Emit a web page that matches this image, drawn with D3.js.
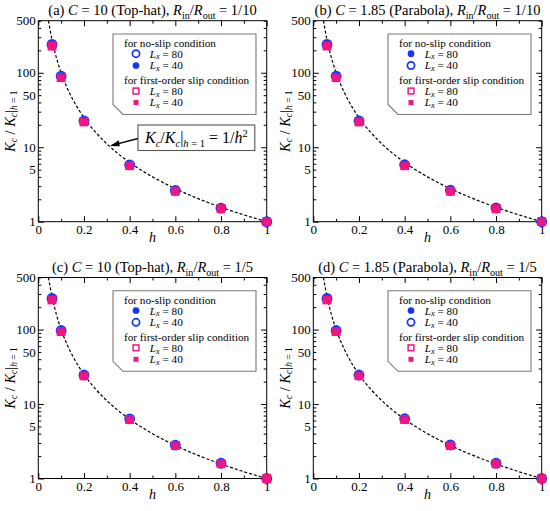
<!DOCTYPE html>
<html>
<head>
<meta charset="utf-8">
<script src="https://cdn.jsdelivr.net/npm/d3@7"></script>
<style>
  body { margin: 0; background: #fff; }
  svg { display: block; }
  text { font-family: "Liberation Serif", "Times New Roman", serif; }
</style>
</head>
<body>
<svg id="chart"></svg>
<script>
// h values where K_c was computed
const hValues = [0.06, 0.1, 0.2, 0.4, 0.6, 0.8, 1];

// (a) C = 10, Rin/Rout = 1/10
const aNoSlip80 = [240, 90, 22.6, 5.8, 2.63, 1.52, 1];
const aNoSlip40 = [238, 89, 22.4, 5.78, 2.62, 1.52, 1];
const aSlip80 = [228, 86, 21.9, 5.66, 2.57, 1.5, 1];
const aSlip40 = [226, 85, 21.7, 5.62, 2.56, 1.49, 1];

// (b) C = 1.85, Rin/Rout = 1/10
const bNoSlip80 = [241, 91, 22.8, 5.85, 2.65, 1.53, 1];
const bNoSlip40 = [240, 90, 22.6, 5.82, 2.64, 1.53, 1];
const bSlip80 = [229, 86, 21.9, 5.65, 2.57, 1.5, 1];
const bSlip40 = [227, 85, 21.7, 5.6, 2.55, 1.49, 1];

// (c) C = 10, Rin/Rout = 1/5
const cNoSlip80 = [263, 98, 24.6, 6.35, 2.82, 1.6, 1];
const cNoSlip40 = [262, 97, 24.5, 6.32, 2.81, 1.6, 1];
const cSlip80 = [250, 94, 24, 6.2, 2.77, 1.58, 1];
const cSlip40 = [248, 93, 23.8, 6.15, 2.75, 1.57, 1];

// (d) C = 1.85, Rin/Rout = 1/5
const dNoSlip80 = [264, 98, 24.7, 6.38, 2.83, 1.61, 1];
const dNoSlip40 = [262, 97, 24.5, 6.34, 2.82, 1.6, 1];
const dSlip80 = [250, 94, 24, 6.2, 2.77, 1.58, 1];
const dSlip40 = [248, 93, 23.8, 6.15, 2.75, 1.57, 1];

// dashed reference line Kc/Kc|h=1 = 1/h^2
const curveH = [0.0447, 0.05, 0.055, 0.06, 0.07, 0.08, 0.09, 0.1, 0.12, 0.15, 0.2, 0.25, 0.3, 0.35, 0.4, 0.5, 0.6, 0.7, 0.8, 0.9, 1];
const curveK = [500, 400, 330.6, 277.8, 204.1, 156.3, 123.5, 100, 69.44, 44.44, 25, 16, 11.11, 8.163, 6.25, 4, 2.778, 2.041, 1.563, 1.235, 1];

const xTicks = [0, 0.2, 0.4, 0.6, 0.8, 1];
const xMinor = [0.1, 0.3, 0.5, 0.7, 0.9];
const yLabels = [1, 5, 10, 50, 100, 500];
const yMajor = [1, 10, 100];
const yMinor = [2, 3, 4, 5, 6, 7, 8, 9, 20, 30, 40, 50, 60, 70, 80, 90, 200, 300, 400, 500];

const width = 550, height = 511;
const pw = 228.4, ph = 201;
const blue = "#1433ff", pink = "#f5157f";

const svg = d3.select("#chart").attr("width", width).attr("height", height);

const panels = [
  {tag: "(a)", c: "10", shape: "Top-hat", ratio: "1/10", ox: 38.3, oy: 20.7,
   series: [aNoSlip80, aNoSlip40, aSlip80, aSlip40], openFor80: true, note: true},
  {tag: "(b)", c: "1.85", shape: "Parabola", ratio: "1/10", ox: 313.3, oy: 20.7,
   series: [bNoSlip80, bNoSlip40, bSlip80, bSlip40], openFor80: false},
  {tag: "(c)", c: "10", shape: "Top-hat", ratio: "1/5", ox: 38.3, oy: 277.5,
   series: [cNoSlip80, cNoSlip40, cSlip80, cSlip40], openFor80: false},
  {tag: "(d)", c: "1.85", shape: "Parabola", ratio: "1/5", ox: 313.3, oy: 277.5,
   series: [dNoSlip80, dNoSlip40, dSlip80, dSlip40], openFor80: false}
];

// text with italic pieces, subscripts and superscripts
function rich(sel, parts, subSize, subShift) {
  let shift = 0;
  const down = subShift === undefined ? subSize * 0.35 : subShift;
  parts.forEach(p => {
    const ts = sel.append("tspan").text(p.t);
    if (p.it) ts.attr("font-style", "italic");
    let want = p.sub ? down : (p.sup ? -subSize * 0.6 : 0);
    if (want !== shift) { ts.attr("dy", want - shift); shift = want; }
    if (p.sub || p.sup) ts.attr("font-size", subSize);
  });
}

function marker(g, kind, x, y, big) {
  const s = big ? 1 : 0.78;
  if (kind === "openCircle") {
    g.append("circle").attr("cx", x).attr("cy", y).attr("r", 4.6 * s)
      .attr("fill", "none").attr("stroke", blue).attr("stroke-width", 1.7);
  } else if (kind === "fillCircle") {
    g.append("circle").attr("cx", x).attr("cy", y).attr("r", 4.3 * s).attr("fill", blue);
  } else if (kind === "openSquare") {
    const a = 7.4 * s;
    g.append("rect").attr("x", x - a / 2).attr("y", y - a / 2).attr("width", a).attr("height", a)
      .attr("fill", "none").attr("stroke", pink).attr("stroke-width", 1.5);
  } else {
    const a = 6.4 * s;
    g.append("rect").attr("x", x - a / 2).attr("y", y - a / 2).attr("width", a).attr("height", a)
      .attr("fill", pink);
  }
}

panels.forEach((p, i) => {
  const g = svg.append("g").attr("transform", `translate(${p.ox},${p.oy})`);
  const x = d3.scaleLinear().domain([0, 1]).range([0, pw]);
  const y = d3.scaleLog().domain([1, 500]).range([ph, 0]);

  g.append("clipPath").attr("id", "clip" + i)
    .append("rect").attr("width", pw).attr("height", ph);

  // ticks on all four sides, pointing in
  const tickG = g.append("g");
  tickG.append("g").attr("transform", `translate(0,${ph})`)
    .call(d3.axisBottom(x).tickValues(xTicks).tickSize(-5.5).tickPadding(3.5).tickFormat(d3.format("")));
  tickG.append("g").attr("transform", `translate(0,${ph})`)
    .call(d3.axisBottom(x).tickValues(xMinor).tickSize(-3).tickFormat(""));
  tickG.append("g").call(d3.axisTop(x).tickValues(xTicks).tickSize(-5.5).tickFormat(""));
  tickG.append("g").call(d3.axisTop(x).tickValues(xMinor).tickSize(-3).tickFormat(""));
  tickG.append("g").call(d3.axisLeft(y).tickValues(yMajor).tickSize(-5.5).tickFormat(""));
  tickG.append("g").call(d3.axisLeft(y).tickValues(yMinor).tickSize(-3).tickFormat(""));
  tickG.append("g").call(d3.axisLeft(y).tickValues(yLabels).tickSize(0).tickPadding(2.5).tickFormat(d3.format("")));
  tickG.append("g").attr("transform", `translate(${pw},0)`)
    .call(d3.axisRight(y).tickValues(yMajor).tickSize(-5.5).tickFormat(""));
  tickG.append("g").attr("transform", `translate(${pw},0)`)
    .call(d3.axisRight(y).tickValues(yMinor).tickSize(-3).tickFormat(""));
  tickG.selectAll(".domain").remove();
  tickG.selectAll("text").attr("fill", "#000").attr("font-size", 13);
  tickG.selectAll("line").attr("stroke", "#000");

  g.append("rect").attr("width", pw).attr("height", ph)
    .attr("fill", "none").attr("stroke", "#000").attr("stroke-width", 1);

  // 1/h^2 line
  const line = d3.line().x((d, j) => x(curveH[j])).y(d => y(d)).curve(d3.curveMonotoneX);
  g.append("path").datum(curveK).attr("d", line).attr("clip-path", `url(#clip${i})`)
    .attr("fill", "none").attr("stroke", "#000").attr("stroke-width", 1.2)
    .attr("stroke-dasharray", "3,2");

  // data points
  const kinds = p.openFor80
    ? ["openCircle", "fillCircle", "openSquare", "fillSquare"]
    : ["fillCircle", "openCircle", "openSquare", "fillSquare"];
  const order = p.openFor80 ? [0, 1, 2, 3] : [1, 0, 2, 3];
  const pts = g.append("g");
  order.forEach(k => {
    p.series[k].forEach((v, j) => marker(pts, kinds[k], x(hValues[j]), y(v), true));
  });

  // legend
  const lg = g.append("g").attr("font-size", 11.2);
  const L = 74.7, T = 13.3, R = 217.7, B = 93.8, ch = 10;
  lg.append("path")
    .attr("d", `M${L},${T}H${R}V${B}H${L + ch}L${L},${B - ch}Z`)
    .attr("fill", "#fff").attr("stroke", "#7a7a7a").attr("stroke-width", 1.1);
  lg.append("text").attr("x", 85.7).attr("y", 26).text("for no-slip condition");
  lg.append("text").attr("x", 85.7).attr("y", 63.3).text("for first-order slip condition");
  const rows = [33, 44.8, 70.3, 81.8];
  const labels = ["80", "40", "80", "40"];
  rows.forEach((ry, k) => {
    marker(lg, kinds[k], 97.7, ry, false);
    const t = lg.append("text").attr("x", 111.5).attr("y", ry + 4);
    rich(t, [{t: "L", it: true}, {t: "x", it: true, sub: true}, {t: " = " + labels[k]}], 8.3, 1.8);
  });

  // title
  const title = svg.append("text").attr("x", p.ox + pw / 2).attr("y", p.oy - 5.5)
    .attr("text-anchor", "middle").attr("font-size", 14.5);
  rich(title, [
    {t: p.tag + " "}, {t: "C", it: true}, {t: " = " + p.c + " (" + p.shape + "), "},
    {t: "R", it: true}, {t: "in", sub: true}, {t: "/"}, {t: "R", it: true}, {t: "out", sub: true},
    {t: " = " + p.ratio}
  ], 10);

  // axis titles
  g.append("text").attr("x", pw / 2).attr("y", ph + 20.5).attr("text-anchor", "middle")
    .attr("font-size", 14).attr("font-style", "italic").text("h");
  const yl = g.append("text").attr("transform", `translate(${-23.5},${ph / 2}) rotate(-90)`)
    .attr("text-anchor", "middle").attr("font-size", 14.5);
  rich(yl, [
    {t: "K", it: true}, {t: "c", it: true, sub: true}, {t: " / "}, {t: "K", it: true},
    {t: "c", it: true, sub: true}, {t: "|"}, {t: "h", it: true, sub: true}, {t: " = 1", sub: true}
  ], 9.5, 2.5);

  // annotation in panel (a)
  if (p.note) {
    const nx = 99.7, ny = 104.3, nw = 116.8, nh = 25.5;
    g.append("line").attr("x1", nx).attr("y1", ny + 13.5).attr("x2", 73.5).attr("y2", 124.6)
      .attr("stroke", "#000").attr("stroke-width", 1.3);
    g.append("path").attr("d", "M71.7,125.3L80.5,119.6L81.5,125.5Z").attr("fill", "#000");
    g.append("rect").attr("x", nx).attr("y", ny).attr("width", nw).attr("height", nh)
      .attr("fill", "#fff").attr("stroke", "#555").attr("stroke-width", 1.1);
    const nt = g.append("text").attr("x", nx + nw / 2).attr("y", ny + 18)
      .attr("text-anchor", "middle").attr("font-size", 16);
    rich(nt, [
      {t: "K", it: true}, {t: "c", it: true, sub: true}, {t: "/"}, {t: "K", it: true},
      {t: "c", it: true, sub: true}, {t: "|"}, {t: "h", it: true, sub: true}, {t: " = 1", sub: true},
      {t: " = 1/"}, {t: "h", it: true}, {t: "2", sup: true}
    ], 10.5);
  }
});
</script>
</body>
</html>
